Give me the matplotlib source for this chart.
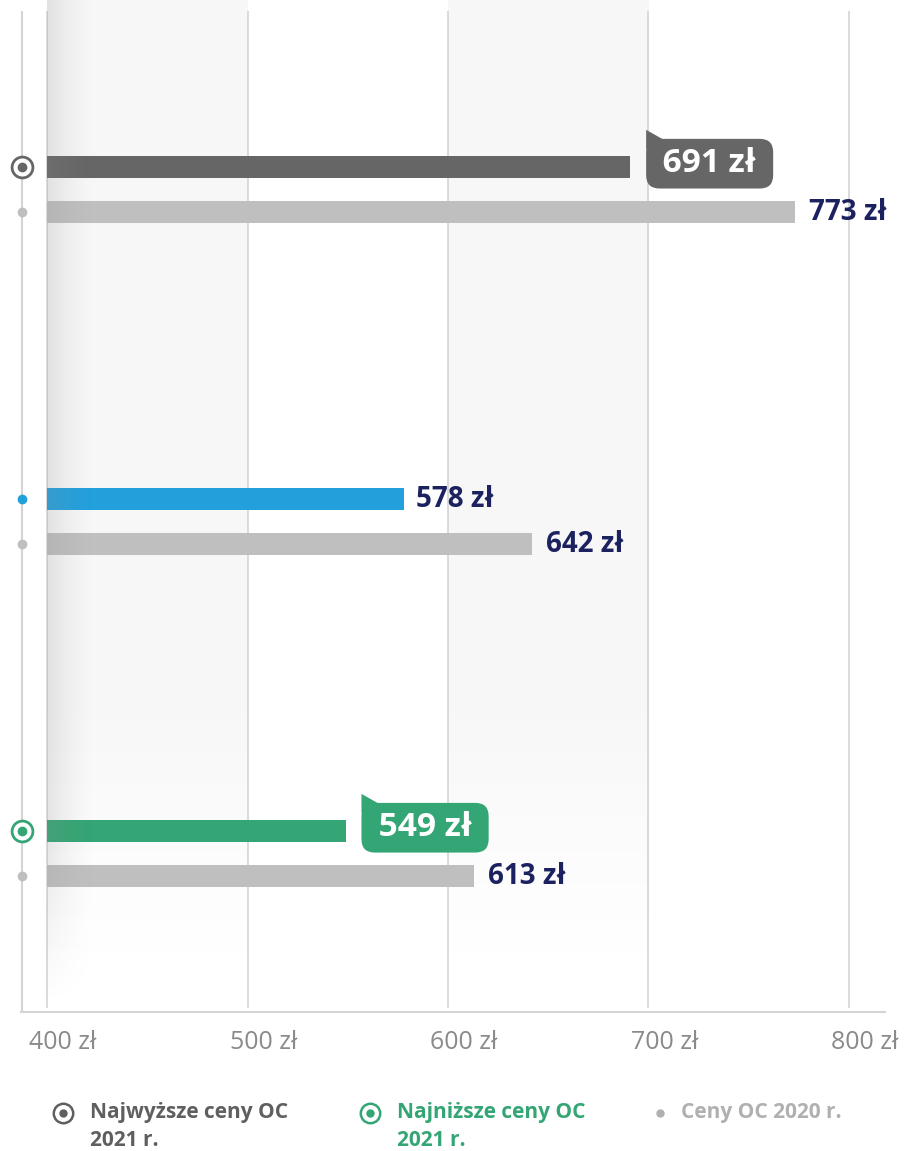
import numpy as np
import matplotlib
matplotlib.use("Agg")
import matplotlib.pyplot as plt
import matplotlib.transforms as mtransforms
from matplotlib.patches import Polygon

plt.rcParams['font.family'] = ['Open Sans', 'DejaVu Sans']

# data
groups = ["najwyzsze", "srednie", "najnizsze"]
prices_2021 = [691, 578, 549]
prices_2020 = [773, 642, 613]
colors_2021 = ["#666666", "#22a0dc", "#34a574"]
badge_2021 = [True, False, True]
ticks = [400, 500, 600, 700, 800]
tick_labels = ["400 zł", "500 zł", "600 zł", "700 zł", "800 zł"]
legend_labels = ["Najwyższe ceny OC\n2021 r.", "Najniższe ceny OC\n2021 r.", "Ceny OC 2020 r."]

BASE = 400
GRAY20 = "#bfbfbf"
NAVY = "#1c2260"
GRID = "#d4d4d4"

W, H, DPI = 906, 1151, 100
fig = plt.figure(figsize=(W / DPI, H / DPI), dpi=DPI)
ax = fig.add_axes([21 / W, (H - 1012) / H, 864 / W, 1012 / H])

y_pos = np.arange(len(groups))
off = 0.068
bh = 0.068

# background bands fading out towards the bottom
yy = np.linspace(-0.571, 2.45, 200)
fade = np.clip((2.3 - yy) / 0.8, 0, 1)
band = np.zeros((200, 1, 4))
band[..., :3] = 0.972
band[:, 0, 3] = fade
for x0 in (400, 600):
    ax.imshow(band, extent=[x0, x0 + 100, 2.45, -0.571], aspect='auto', zorder=0,
              interpolation='bilinear')

# grid lines
ax.vlines(ticks, -0.538, 2.465, color=GRID, lw=1.2, zorder=1)

# bars
ax.barh(y_pos - off, np.array(prices_2021) - BASE, left=BASE, height=bh, color=colors_2021, zorder=3)
ax.barh(y_pos + off, np.array(prices_2020) - BASE, left=BASE, height=bh, color=GRAY20, zorder=3)

# left shadow
sh = np.zeros((200, 60, 4))
gx = np.linspace(1, 0, 60) ** 1.5
gy = np.clip((2.45 - yy) / 0.5, 0, 1)
sh[..., :3] = 0.55
sh[..., 3] = 0.2 * gy[:, None] * gx[None, :]
ax.imshow(sh, extent=[400, 424, 2.45, -0.571], aspect='auto', zorder=4, interpolation='bilinear')
ax.set_xlim(387, 818)
ax.set_ylim(2.477, -0.571)

# axis lines
ax.vlines(387.4, -0.538, 2.477, color=GRID, lw=1.5, zorder=2, clip_on=False)
for s in ("top", "right", "left"):
    ax.spines[s].set_visible(False)
ax.spines["bottom"].set_color(GRID)
ax.spines["bottom"].set_linewidth(1.5)

# markers on left axis
mx = 387.4
for i, c in enumerate(colors_2021):
    if badge_2021[i]:
        ax.plot(mx, y_pos[i] - off, 'o', ms=15, mfc='white', mec=c, mew=2.0, zorder=6, clip_on=False)
        ax.plot(mx, y_pos[i] - off, 'o', ms=6, color=c, zorder=7, clip_on=False)
    else:
        ax.plot(mx, y_pos[i] - off, 'o', ms=6, color=c, zorder=6, clip_on=False)
    ax.plot(mx, y_pos[i] + off, 'o', ms=6, color=GRAY20, zorder=6, clip_on=False)

# value labels
badges = []
for i in range(len(groups)):
    if badge_2021[i]:
        t = ax.text(prices_2021[i] + 12, y_pos[i] - off - 0.01, f" {prices_2021[i]} zł ",
                    ha='left', va='center', fontsize=24, fontweight='bold', color='white', zorder=8,
                    bbox=dict(boxstyle='round,pad=0.25,rounding_size=0.4', fc=colors_2021[i], ec='none'))
        badges.append((t, colors_2021[i]))
    else:
        ax.text(prices_2021[i] + 6, y_pos[i] - off, f"{prices_2021[i]} zł", ha='left', va='center',
                fontsize=20, fontweight='bold', color=NAVY, zorder=8)
    ax.text(prices_2020[i] + 7, y_pos[i] + off, f"{prices_2020[i]} zł", ha='left', va='center',
            fontsize=20, fontweight='bold', color=NAVY, zorder=8)

# ticks
ax.set_yticks([])
ax.set_xticks(ticks)
ax.set_xticklabels(tick_labels, fontsize=18, color="#8a8a8a")
ax.tick_params(axis='x', length=0, pad=13)
shift = mtransforms.ScaledTranslation(16 / DPI, 0, fig.dpi_scale_trans)
for lab in ax.get_xticklabels():
    lab.set_transform(lab.get_transform() + shift)

# legend
lg = fig.add_axes([0, 0, 1, 80 / H])
lg.set_xlim(0, W)
lg.set_ylim(80, 0)
lg.axis('off')
leg_x = [63, 370, 660]
leg_colors = ["#5f5f5f", "#34a574", "#b0b0b0"]
leg_ring = [True, True, False]
for x, c, ring, lab in zip(leg_x, leg_colors, leg_ring, legend_labels):
    yc = 1113 - (H - 80)
    if ring:
        lg.plot(x, yc, 'o', ms=14, mfc='white', mec=c, mew=1.8)
        lg.plot(x, yc, 'o', ms=5, color=c)
        tx = x + 27
    else:
        lg.plot(x, yc, 'o', ms=5, color=c)
        tx = x + 21
    lg.text(tx, yc - 11, lab, ha='left', va='top', fontsize=15, fontweight='bold',
            color=c, linespacing=1.45)

# speech-bubble tabs on badges
fig.canvas.draw()
for t, c in badges:
    bb = t.get_bbox_patch().get_window_extent()
    x0, y1 = bb.x0, bb.y1
    tab = Polygon([[x0, y1 - 10], [x0, y1 + 9], [x0 + 16, y1]], closed=True,
                  transform=mtransforms.IdentityTransform(), fc=c, ec='none', zorder=8)
    fig.patches.append(tab)

fig.savefig("out.png", dpi=DPI)
